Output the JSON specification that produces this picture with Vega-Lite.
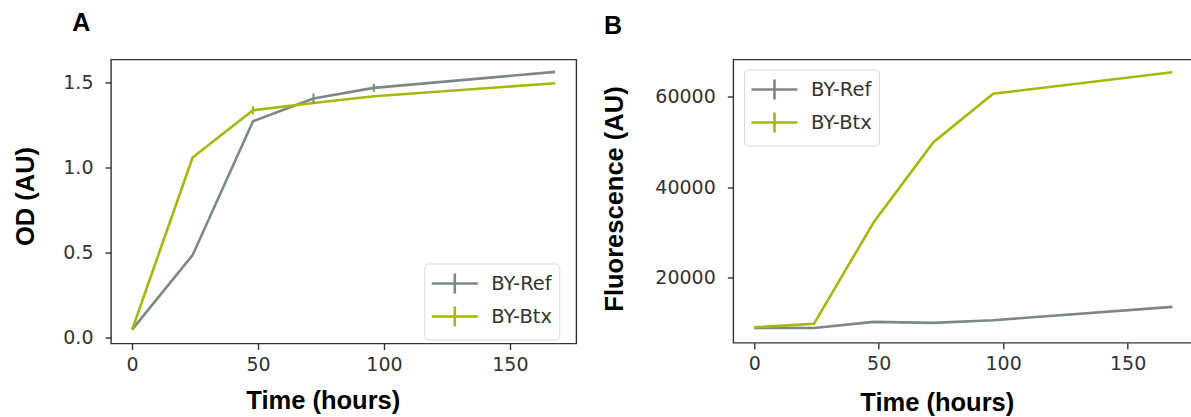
{
  "$schema": "https://vega.github.io/schema/vega-lite/v6.json",
  "padding": {"left": 12, "top": 9.5, "right": 0, "bottom": 3},
  "bounds": "flush",
  "spacing": 156.3,
  "config": {
    "font": "DejaVu Sans",
    "view": {"stroke": "#333333", "strokeWidth": 1.4},
    "axis": {"domain": false, "grid": false, "tickColor": "#333333", "tickSize": 6, "tickWidth": 1.4,
      "labelFont": "DejaVu Sans", "labelFontSize": 19, "labelColor": "#333333",
      "titleFont": "Liberation Sans", "titleFontWeight": "bold", "titleFontSize": 25.5, "titleColor": "#000000",
      "titleAlign": "center", "titleBaseline": "alphabetic"},
    "axisX": {"labelPadding": 6},
    "axisY": {"labelPadding": 12},
    "title": {"font": "Liberation Sans", "fontWeight": "bold", "fontSize": 25, "color": "#000000", "anchor": "start", "frame": "group", "baseline": "alphabetic"},
    "legend": {"orient": "none", "padding": 7, "strokeColor": "#d9d9d9", "cornerRadius": 4, "fillColor": "#ffffff",
      "labelFont": "DejaVu Sans", "labelFontSize": 19.5, "labelColor": "#333333", "labelOffset": 23.4,
      "symbolType": "M-2,0H2M0,-0.87V0.87", "symbolSize": 529, "symbolOffset": 10.5, "symbolStrokeWidth": 2.6, "symbolFillColor": "transparent", "rowPadding": 1}
  },
  "datasets": {
    "odA": [
      {"strain": "BY-Ref", "t": 0, "v": 0.046},
      {"strain": "BY-Ref", "t": 24, "v": 0.484},
      {"strain": "BY-Ref", "t": 48, "v": 1.273},
      {"strain": "BY-Ref", "t": 72, "v": 1.406},
      {"strain": "BY-Ref", "t": 96, "v": 1.469},
      {"strain": "BY-Ref", "t": 168, "v": 1.563},
      {"strain": "BY-Btx", "t": 0, "v": 0.046},
      {"strain": "BY-Btx", "t": 24, "v": 1.059},
      {"strain": "BY-Btx", "t": 48, "v": 1.337},
      {"strain": "BY-Btx", "t": 72, "v": 1.38},
      {"strain": "BY-Btx", "t": 96, "v": 1.42},
      {"strain": "BY-Btx", "t": 168, "v": 1.496}
    ],
    "errA": [
      {"strain": "BY-Ref", "t": 72, "lo": 1.376, "hi": 1.436},
      {"strain": "BY-Ref", "t": 96, "lo": 1.446, "hi": 1.492},
      {"strain": "BY-Btx", "t": 48, "lo": 1.313, "hi": 1.361}
    ],
    "fluB": [
      {"strain": "BY-Ref", "t": 0, "v": 8990},
      {"strain": "BY-Ref", "t": 24, "v": 8950},
      {"strain": "BY-Ref", "t": 48, "v": 10310},
      {"strain": "BY-Ref", "t": 72, "v": 10090},
      {"strain": "BY-Ref", "t": 96, "v": 10660},
      {"strain": "BY-Ref", "t": 168, "v": 13610},
      {"strain": "BY-Btx", "t": 0, "v": 9120},
      {"strain": "BY-Btx", "t": 24, "v": 9870},
      {"strain": "BY-Btx", "t": 48, "v": 32250},
      {"strain": "BY-Btx", "t": 72, "v": 49870},
      {"strain": "BY-Btx", "t": 96, "v": 60530},
      {"strain": "BY-Btx", "t": 168, "v": 65290}
    ]
  },
  "resolve": {"scale": {"color": "independent"}, "legend": {"color": "independent"}},
  "hconcat": [
    {
      "width": 465.3,
      "height": 284,
      "title": {"text": "A", "dx": -38.7, "offset": 23.8},
      "layer": [
        {
          "data": {"name": "odA"},
          "mark": {"type": "line", "strokeWidth": 2.6},
          "encoding": {
            "x": {"field": "t", "type": "quantitative",
              "scale": {"domain": [-8.4, 176.4], "nice": false, "zero": false},
              "axis": {"values": [0, 50, 100, 150], "title": "Time (hours)", "titleX": 211.8, "titleY": 65}},
            "y": {"field": "v", "type": "quantitative",
              "scale": {"domain": [-0.036, 1.636], "nice": false, "zero": false},
              "axis": {"values": [0, 0.5, 1, 1.5], "format": ".1f", "title": "OD (AU)", "titleX": -77.4, "titleY": 136.5, "titleAngle": -90}},
            "color": {"field": "strain", "type": "nominal",
              "scale": {"domain": ["BY-Ref", "BY-Btx"], "range": ["#7b8a80", "#a9b60a"]},
              "legend": {"title": null, "legendX": 313.3, "legendY": 204}}
          }
        },
        {
          "data": {"name": "errA"},
          "mark": {"type": "rule", "strokeWidth": 2},
          "encoding": {
            "x": {"field": "t", "type": "quantitative"},
            "y": {"field": "lo", "type": "quantitative"},
            "y2": {"field": "hi"},
            "color": {"field": "strain", "type": "nominal"}
          }
        }
      ]
    },
    {
      "width": 460,
      "height": 283.3,
      "title": {"text": "B", "dx": -129.3, "offset": 20.5},
      "layer": [
        {
          "data": {"name": "fluB"},
          "mark": {"type": "line", "strokeWidth": 2.6},
          "encoding": {
            "x": {"field": "t", "type": "quantitative",
              "scale": {"domain": [-8.4, 176.4], "nice": false, "zero": false},
              "axis": {"values": [0, 50, 100, 150], "title": "Time (hours)", "titleX": 203.5, "titleY": 67.7}},
            "y": {"field": "v", "type": "quantitative",
              "scale": {"domain": [5700, 68080], "nice": false, "zero": false},
              "axis": {"values": [20000, 40000, 60000], "format": "d", "title": "Fluorescence (AU)", "titleX": -110.8, "titleY": 139, "titleAngle": -90}},
            "color": {"field": "strain", "type": "nominal",
              "scale": {"domain": ["BY-Ref", "BY-Btx"], "range": ["#7b8a80", "#a9b60a"]},
              "legend": {"title": null, "legendX": 10.7, "legendY": 10}}
          }
        }
      ]
    }
  ]
}
